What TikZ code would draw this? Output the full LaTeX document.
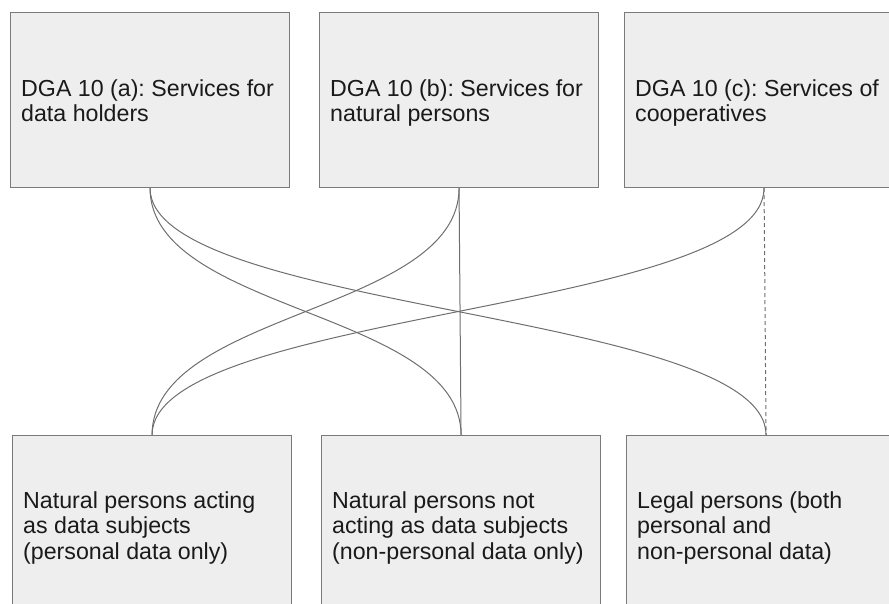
\documentclass[tikz,border=0pt]{standalone}
\usepackage{fontspec}
\setmainfont{Liberation Sans}
\definecolor{boxfill}{HTML}{EEEEEE}
\definecolor{boxline}{HTML}{7A7A7A}
\definecolor{conn}{HTML}{6E6E6E}
\definecolor{txt}{HTML}{1A1A1A}
\begin{document}
\frenchspacing
\begin{tikzpicture}[x=1pt,y=-1pt,
  box/.style={draw=boxline, fill=boxfill, line width=1.1pt, rectangle,
    minimum width=279pt, inner sep=0pt, anchor=north west},
  topbox/.style={box, minimum height=175pt},
  botbox/.style={box, minimum height=183pt},
  lbl/.style={anchor=north west, inner sep=0pt, align=left, text=txt,
    font=\fontsize{23.2}{25.6}\selectfont},
  link/.style={draw=conn, line width=1pt}]
\useasboundingbox (0,0) rectangle (889,604);
\clip (0,0) rectangle (889,604);
\node[topbox] (a) at (10,12) {};
\node[topbox] (b) at (319,12) {};
\node[topbox] (c) at (624,12) {};
\node[botbox] (d) at (12,435) {};
\node[botbox] (e) at (321,435) {};
\node[botbox] (f) at (626,435) {};
\node[lbl] (ta) at ([xshift=11pt]a.west |- 0,79) {DGA 10 (a): Services for\\data holders};
\node[lbl] (tb) at ([xshift=11pt]b.west |- 0,79) {DGA 10 (b): Services for\\natural persons};
\node[lbl] (tc) at ([xshift=11pt]c.west |- 0,79) {DGA 10 (c): Services of\\cooperatives};
\node[lbl] (td) at ([xshift=11pt]d.west |- 0,491) {Natural persons acting\\as data subjects\\(personal data only)};
\node[lbl] (te) at ([xshift=11pt]e.west |- 0,491) {Natural persons not\\acting as data subjects\\(non-personal data only)};
\node[lbl] (tf) at ([xshift=11pt]f.west |- 0,491) {Legal persons (both\\personal and\\non-personal data)};
\draw[link] (a.south) .. controls +(0,124) and +(0,-124) .. (e.north);
\draw[link] (a.south) .. controls +(0,124) and +(0,-124) .. (f.north);
\draw[link] (b.south) .. controls +(0,124) and +(0,-124) .. (d.north);
\draw[link] (b.south) -- (e.north);
\draw[link] (c.south) .. controls +(0,124) and +(0,-124) .. (d.north);
\draw[link, dash pattern=on 4pt off 3pt] (c.south) -- (f.north);
\end{tikzpicture}
\end{document}
